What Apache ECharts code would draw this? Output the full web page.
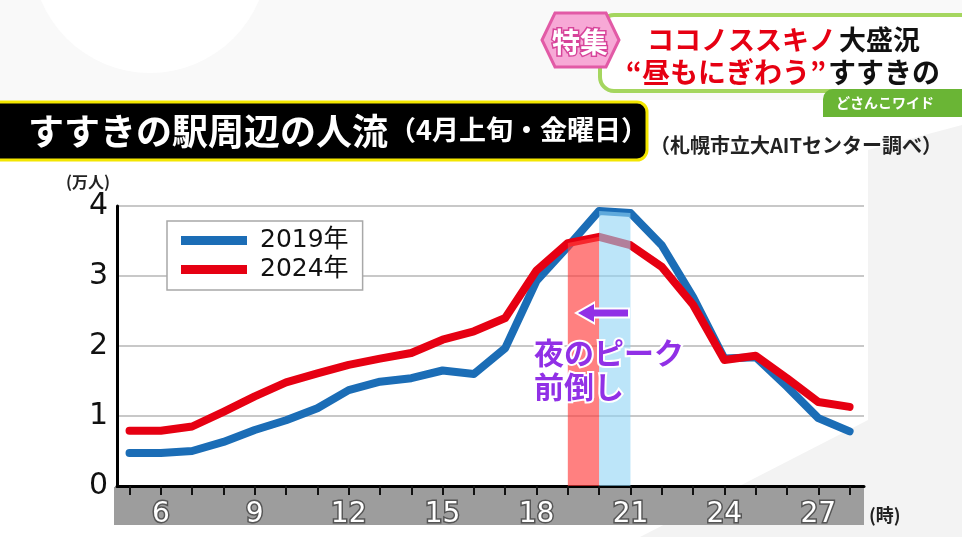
<!DOCTYPE html>
<html><head><meta charset="utf-8">
<script src="https://cdn.jsdelivr.net/npm/echarts@6/dist/echarts.min.js"></script>
<style>html,body{margin:0;padding:0;background:#fff}#c{width:962px;height:537px}</style>
</head><body><div id="c"></div>
<script>
// ---- data ----
const hours = [5,6,7,8,9,10,11,12,13,14,15,16,17,18,19,20,21,22,23,24,25,26,27,28];
const v2019 = [0.47,0.47,0.50,0.63,0.80,0.94,1.11,1.37,1.49,1.54,1.65,1.60,1.97,2.93,3.42,3.93,3.90,3.44,2.70,1.82,1.84,1.42,0.97,0.78];
const v2024 = [0.79,0.79,0.85,1.06,1.28,1.48,1.61,1.73,1.82,1.90,2.09,2.21,2.40,3.08,3.47,3.56,3.44,3.13,2.59,1.80,1.86,1.54,1.20,1.13];
const seriesNames = ['2019年','2024年'];
const tickHours = hours;
const labelHours = [6,9,12,15,18,21,24,27];
const peak2024Hours = [19,20];
const peak2019Hours = [20,21];

const FF = "'Noto Sans CJK JP', 'Noto Sans', sans-serif";
const FD = "'DejaVu Sans', 'Noto Sans CJK JP', sans-serif";
const pair = (arr) => hours.map((h,i)=>[h,arr[i]]);
const band = (hs, arr) => hs.map(h => [h, arr[hours.indexOf(h)]]);

const chart = echarts.init(document.getElementById('c'), null, {renderer:'canvas'});
const purple = '#9130e6';
chart.setOption({
  backgroundColor:'#ffffff',
  animation:false,
  grid:{left:117,right:98,top:206,bottom:51,containLabel:false},
  legend:{
    data:seriesNames, left:167, top:221, orient:'vertical', icon:'rect',
    itemWidth:66, itemHeight:9, itemGap:4,
    backgroundColor:'#fff', borderColor:'#a8a8a8', borderWidth:1.5,
    padding:[7,14,8,14],
    textStyle:{fontSize:25,color:'#111',lineHeight:24,padding:[0,0,0,8],fontFamily:FD}
  },
  xAxis:{
    type:'value', min:4.6, max:28.46,
    axisLine:{lineStyle:{color:'#000',width:3}},
    axisTick:{show:true,customValues:tickHours,length:9,lineStyle:{color:'#111',width:2}},
    axisLabel:{customValues:labelHours,fontSize:28,color:'#fff',textBorderColor:'#555',textBorderWidth:3,margin:15,fontFamily:FD},
    splitLine:{show:false}
  },
  yAxis:{
    type:'value', min:0, max:4, interval:1,
    axisLine:{show:true,lineStyle:{color:'#000',width:3}},
    axisTick:{show:false},
    axisLabel:{fontSize:30,color:'#111',margin:9,fontFamily:FD,padding:[4,0,0,0]},
    splitLine:{lineStyle:{color:'#c8c8c8',width:2}}
  },
  series:[
    {name:seriesNames[0],type:'line',data:pair(v2019),symbol:'none',z:3,
     lineStyle:{width:8,color:'#1b6db6',cap:'round',join:'round'},itemStyle:{color:'#1b6db6'}},
    {name:seriesNames[1],type:'line',data:pair(v2024),symbol:'none',z:4,
     lineStyle:{width:8,color:'#e60012',cap:'round',join:'round'},itemStyle:{color:'#e60012'}},
    {name:'peak2024',type:'line',data:band(peak2024Hours,v2024),symbol:'none',z:5,silent:true,
     lineStyle:{width:0},areaStyle:{color:'rgba(255,60,60,0.65)',opacity:1}},
    {name:'peak2019',type:'line',data:band(peak2019Hours,v2019),symbol:'none',z:5,silent:true,
     lineStyle:{width:0},areaStyle:{color:'rgba(143,211,245,0.6)',opacity:1}}
  ],
  graphic:[
    // background touches
    {type:'rect',z:-20,shape:{x:0,y:0,width:962,height:100},style:{fill:'#f9f9f9'}},
    {type:'circle',z:-19,shape:{cx:150,cy:-45,r:118},style:{fill:'#ffffff'}},
    {type:'polygon',z:-19,shape:{points:[[868,150],[962,125],[962,537],[640,537],[868,420]]},style:{fill:'#f3f3f3'}},
    // gray band under x axis
    {type:'rect',z:-5,shape:{x:114,y:487,width:750,height:38},style:{fill:'#9d9d9d'}},
    // title bar
    {type:'rect',z:50,shape:{x:-20,y:102,width:667,height:58,r:10},style:{fill:'#000',stroke:'#f3e600',lineWidth:3}},
    {type:'text',z:51,style:{text:'すすきの駅周辺の人流',x:28,y:131,fill:'#fff',font:'bold 36px '+FF,textVerticalAlign:'middle'}},
    {type:'text',z:51,style:{text:'（4月上旬・金曜日）',x:389,y:130,fill:'#fff',font:'bold 27px '+FF,textVerticalAlign:'middle'}},
    {type:'text',z:51,style:{text:'（札幌市立大AITセンター調べ）',x:650,y:145,fill:'#222',font:'bold 20px '+FF,textVerticalAlign:'middle'}},
    // top-right banner
    {type:'rect',z:40,shape:{x:600,y:15,width:380,height:76,r:14},style:{fill:'#ffffff',stroke:'#a5d65f',lineWidth:4}},
    {type:'rect',z:41,shape:{x:823,y:89,width:150,height:28,r:[10,0,0,0]},style:{fill:'#6ab535'}},
    {type:'text',z:42,style:{text:'どさんこワイド',x:885,y:103,fill:'#fff',font:'bold 14px '+FF,textAlign:'center',textVerticalAlign:'middle'}},
    {type:'polygon',z:43,shape:{points:[[555,13],[606,13],[619,40],[606,67],[555,67],[542,40]]},style:{fill:'#f7a9d6',stroke:'#e25aa6',lineWidth:3}},
    {type:'text',z:44,style:{text:'特集',x:580,y:42,fill:'#fff',stroke:'#d7449a',lineWidth:3,font:'bold 28px '+FF,textAlign:'center',textVerticalAlign:'middle'}},
    {type:'text',z:44,style:{text:'ココノススキノ',x:647,y:40,fill:'#e60012',font:'bold 27px '+FF,textVerticalAlign:'middle'}},
    {type:'text',z:44,style:{text:'大盛況',x:920,y:40,fill:'#111',font:'bold 27px '+FF,textAlign:'right',textVerticalAlign:'middle'}},
    {type:'text',z:44,style:{text:'“昼もにぎわう”',x:826,y:72,fill:'#e60012',font:'bold 28px '+FF,textAlign:'right',textVerticalAlign:'middle'}},
    {type:'text',z:44,style:{text:'すすきの',x:940,y:72,fill:'#111',font:'bold 28px '+FF,textAlign:'right',textVerticalAlign:'middle'}},
    // axis unit labels
    {type:'text',z:20,style:{text:'(万人)',x:66,y:182,fill:'#222',font:'bold 16px '+FF,textVerticalAlign:'middle'}},
    {type:'text',z:20,style:{text:'(時)',x:869,y:515,fill:'#222',font:'bold 18px '+FF,textVerticalAlign:'middle'}},
    // annotation arrow
    {type:'line',z:30,shape:{x1:590,y1:313,x2:630,y2:313},style:{stroke:'#fff',lineWidth:11}},
    {type:'polygon',z:30,shape:{points:[[574,313],[595,301],[595,325]]},style:{fill:'#fff'}},
    {type:'line',z:31,shape:{x1:592,y1:313,x2:628,y2:313},style:{stroke:purple,lineWidth:7}},
    {type:'polygon',z:31,shape:{points:[[578,313],[594,304],[594,322]]},style:{fill:purple}},
    {type:'text',z:31,style:{text:'夜のピーク',x:534,y:353,fill:purple,stroke:'#fff',lineWidth:4,font:'bold 30px '+FF,textVerticalAlign:'middle'}},
    {type:'text',z:31,style:{text:'前倒し',x:534,y:387,fill:purple,stroke:'#fff',lineWidth:4,font:'bold 30px '+FF,textVerticalAlign:'middle'}}
  ]
});
</script>
</body></html>
